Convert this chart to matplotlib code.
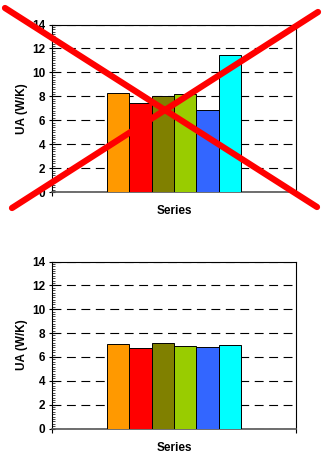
import matplotlib.pyplot as plt
from matplotlib.lines import Line2D
from matplotlib.ticker import MultipleLocator

# Data
series = ["S1", "S2", "S3", "S4", "S5", "S6"]
colors = ["#FF9900", "#FF0000", "#808000", "#99CC00", "#3366FF", "#00FFFF"]
ua_before = [8.3, 7.47, 8.05, 8.22, 6.87, 11.47]
ua_after = [7.07, 6.74, 7.17, 6.96, 6.85, 7.02]

plt.rcParams["font.family"] = ["Liberation Sans", "DejaVu Sans"]
plt.rcParams["font.weight"] = "bold"

fig = plt.figure(figsize=(3.23, 4.54), dpi=100)

ax_top = fig.add_axes([0.161, 0.577, 0.755, 0.369])
ax_bot = fig.add_axes([0.161, 0.056, 0.755, 0.368])

for ax, vals in [(ax_top, ua_before), (ax_bot, ua_after)]:
    x = list(range(len(series)))
    ax.bar(x, vals, width=1.0, color=colors, edgecolor="black", linewidth=0.7, zorder=3)
    ax.set_xlim(-2.96, 7.96)
    ax.set_ylim(0, 14)
    ax.yaxis.set_major_locator(MultipleLocator(2))
    ax.yaxis.set_minor_locator(MultipleLocator(0.2))
    ax.set_xticks([-2.96, 7.96])
    ax.set_xticklabels(["", ""])
    ax.tick_params(axis="x", length=3, width=0.8, direction="out")
    ax.grid(axis="y", color="black", linestyle=(0, (8, 5)), linewidth=0.8, zorder=0)
    ax.tick_params(axis="y", which="major", length=4, width=0.8, labelsize=8.5,
                   pad=3, direction="inout")
    ax.tick_params(axis="y", which="minor", length=2, width=0.5, direction="in")
    for lbl in ax.get_yticklabels():
        lbl.set_fontweight("bold")
    for sp in ax.spines.values():
        sp.set_linewidth(0.8)
    ax.spines["bottom"].set_color("#555555")
    ax.spines["bottom"].set_linewidth(1.2)
    ax.set_ylabel("UA (W/K)", fontsize=8.5, fontweight="bold", labelpad=3)
    ax.set_xlabel("Series", fontsize=8.5, fontweight="bold", labelpad=3)

# Red cross over the top chart
for (x0, y0), (x1, y1) in [((5, 8), (317, 207)), ((318, 12), (12, 208))]:
    fig.add_artist(Line2D([x0 / 323, x1 / 323], [1 - y0 / 454, 1 - y1 / 454],
                          transform=fig.transFigure, color="red", linewidth=4.5,
                          solid_capstyle="round", zorder=10))

fig.savefig("out.png", dpi=100)
